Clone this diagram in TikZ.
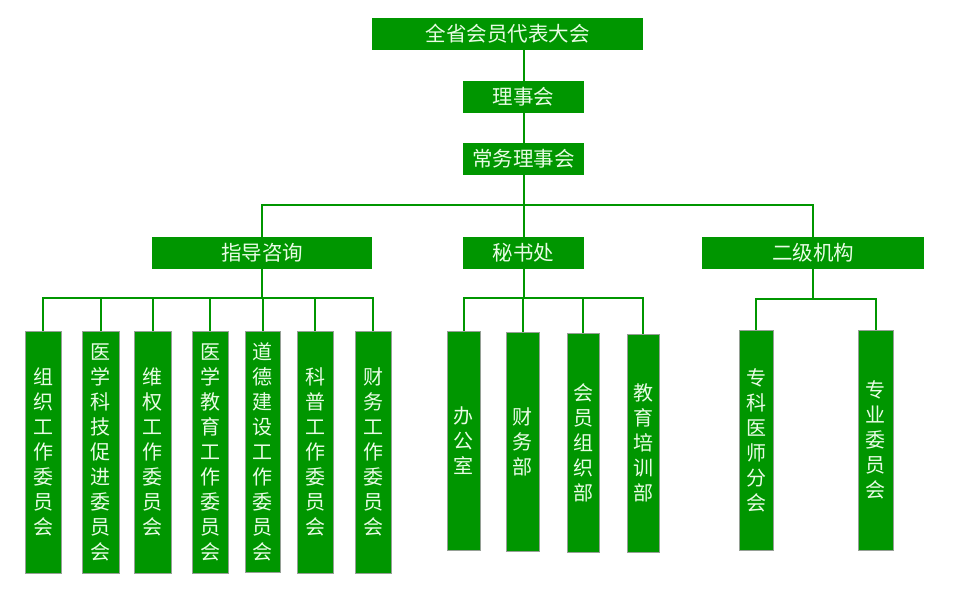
\documentclass[tikz,border=0pt]{standalone}
\usepackage{fontspec}
\newfontfamily\cjk{Noto Sans CJK SC}
\definecolor{boxgreen}{RGB}{0,150,0}
\definecolor{txt}{RGB}{232,252,228}
\definecolor{edge}{RGB}{150,160,150}
\begin{document}
\begin{tikzpicture}[x=1pt,y=-1pt,
  hbox/.style={fill=boxgreen, text=txt, inner sep=0pt, font=\cjk\fontsize{20.5}{20.5}\selectfont},
  vbox/.style={fill=boxgreen, draw=edge, line width=0.9pt, text=txt, inner sep=0pt, align=center, font=\cjk\fontsize{20}{25}\selectfont},
  link/.style={draw=boxgreen, line width=2pt}]
\useasboundingbox (0,0) rectangle (953,589);
% top chain
\node[hbox, minimum width=271pt, minimum height=32pt] (top) at (507.5,34) {全省会员代表大会};
\node[hbox, minimum width=121pt, minimum height=32pt] (lishi) at (523.5,97) {理事会};
\node[hbox, minimum width=121pt, minimum height=32pt] (changwu) at (523.5,159) {常务理事会};
% level 2
\node[hbox, minimum width=220pt, minimum height=32pt] (zhidao) at (262,253) {指导咨询};
\node[hbox, minimum width=121pt, minimum height=32pt] (mishu) at (523.5,253) {秘书处};
\node[hbox, minimum width=222pt, minimum height=32pt] (erji) at (813,253) {二级机构};
% leaves left
\node[vbox, minimum width=36pt, minimum height=242pt] (l1) at (43,452) {组\\织\\工\\作\\委\\员\\会};
\node[vbox, minimum width=37pt, minimum height=242pt] (l2) at (100.5,452) {医\\学\\科\\技\\促\\进\\委\\员\\会};
\node[vbox, minimum width=37pt, minimum height=242pt] (l3) at (152.5,452) {维\\权\\工\\作\\委\\员\\会};
\node[vbox, minimum width=36pt, minimum height=242pt] (l4) at (210,452) {医\\学\\教\\育\\工\\作\\委\\员\\会};
\node[vbox, minimum width=35pt, minimum height=241pt] (l5) at (262.5,451.5) {道\\德\\建\\设\\工\\作\\委\\员\\会};
\node[vbox, minimum width=36pt, minimum height=242pt] (l6) at (315,452) {科\\普\\工\\作\\委\\员\\会};
\node[vbox, minimum width=36pt, minimum height=242pt] (l7) at (373,452) {财\\务\\工\\作\\委\\员\\会};
% leaves middle
\node[vbox, minimum width=33pt, minimum height=219pt] (m1) at (463.5,440.5) {办\\公\\室};
\node[vbox, minimum width=33pt, minimum height=219pt] (m2) at (522.5,441.5) {财\\务\\部};
\node[vbox, minimum width=32pt, minimum height=219pt] (m3) at (583,442.5) {会\\员\\组\\织\\部};
\node[vbox, minimum width=32pt, minimum height=218pt] (m4) at (643,443) {教\\育\\培\\训\\部};
% leaves right
\node[vbox, minimum width=34pt, minimum height=220pt] (r1) at (756,440) {专\\科\\医\\师\\分\\会};
\node[vbox, minimum width=35pt, minimum height=220pt] (r2) at (875.5,440) {专\\业\\委\\员\\会};
% connectors
\coordinate (bus1) at (523.5,205);
\coordinate (bus2) at (262,298);
\coordinate (bus3) at (523.5,298);
\coordinate (bus4) at (813,299);
\draw[link] (top.south -| lishi.north) -- (lishi.north);
\draw[link] (lishi) -- (changwu);
\draw[link] (changwu) -- (mishu);
\draw[link] (zhidao.north) |- (bus1) -| (erji.north);
\draw[link] (zhidao.south) -- (bus2);
\draw[link] (l1.north) |- (bus2) -| (l7.north);
\foreach \n in {l2,l3,l4,l5,l6} \draw[link] (bus2 -| \n.north) -- (\n.north);
\draw[link] (mishu.south) -- (bus3);
\draw[link] (m1.north) |- (bus3) -| (m4.north);
\foreach \n in {m2,m3} \draw[link] (bus3 -| \n.north) -- (\n.north);
\draw[link] (erji.south) -- (bus4);
\draw[link] (r1.north) |- (bus4) -| (r2.north);
\end{tikzpicture}
\end{document}
